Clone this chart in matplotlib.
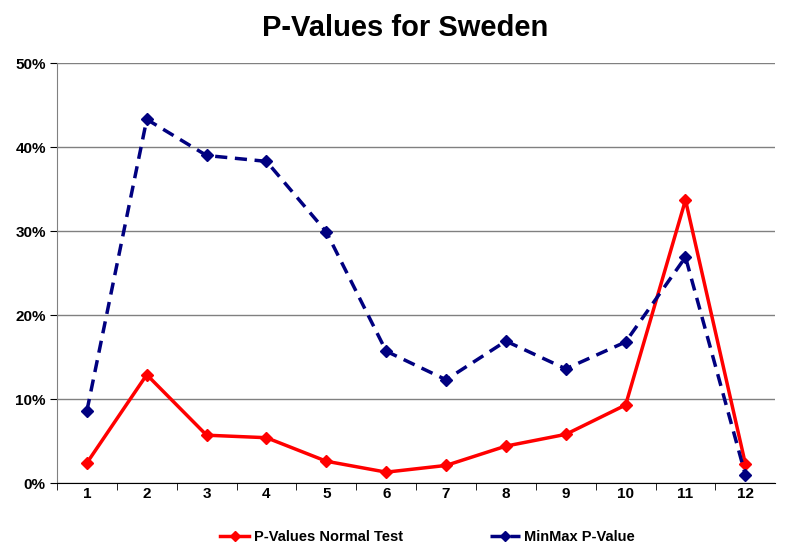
import matplotlib
matplotlib.use("Agg")
import matplotlib.pyplot as plt
from matplotlib.ticker import FixedLocator, PercentFormatter

# data (percent)
months = [1, 2, 3, 4, 5, 6, 7, 8, 9, 10, 11, 12]
normal_test = [2.4, 12.9, 5.7, 5.4, 2.6, 1.3, 2.1, 4.4, 5.8, 9.3, 33.7, 2.3]
minmax = [8.6, 43.3, 39.0, 38.3, 29.9, 15.7, 12.3, 16.9, 13.6, 16.8, 26.9, 1.0]

plt.rcParams['font.family'] = ['Liberation Sans', 'DejaVu Sans']

fig = plt.figure(figsize=(7.99, 5.44), dpi=100)
ax = fig.add_axes([0.0713, 0.112, 0.899, 0.772])

ax.plot(months, normal_test, color='#ff0000', lw=2.5, marker='D', ms=6,
        label='P-Values Normal Test', zorder=3)
ax.plot(months, minmax, color='#000080', lw=2.5, ls=(0, (3.5, 2.2)), marker='D', ms=6,
        label='MinMax P-Value', zorder=3)

ax.set_xlim(0.5, 12.5)
ax.set_ylim(0, 50)
ax.set_yticks(range(0, 51, 10))
ax.yaxis.set_major_formatter(PercentFormatter(decimals=0))
ax.set_xticks(months)
ax.xaxis.set_minor_locator(FixedLocator([m + 0.5 for m in months[:-1]] + [0.5]))
ax.tick_params(axis='x', which='major', length=0, pad=3)
ax.tick_params(axis='x', which='minor', length=5, direction='out', color='black')
ax.tick_params(axis='y', length=5, direction='out', pad=3)
for lab in ax.get_xticklabels() + ax.get_yticklabels():
    lab.set_fontweight('bold')
    lab.set_fontsize(11)

ax.grid(axis='y', color='#808080', lw=1)
ax.set_axisbelow(True)
for s in ['top', 'right']:
    ax.spines[s].set_visible(False)
ax.spines['left'].set_color('#808080')
ax.spines['bottom'].set_color('black')

fig.suptitle('P-Values for Sweden', fontsize=21, fontweight='bold', x=0.507, y=0.975)

leg = fig.legend(loc='lower center', bbox_to_anchor=(0.535, -0.025), ncol=2, frameon=False,
                 prop={'weight': 'bold', 'size': 10.5}, columnspacing=6, handlelength=2.0,
                 handletextpad=0.3, markerscale=0.8)

fig.savefig('out.png', dpi=100)
